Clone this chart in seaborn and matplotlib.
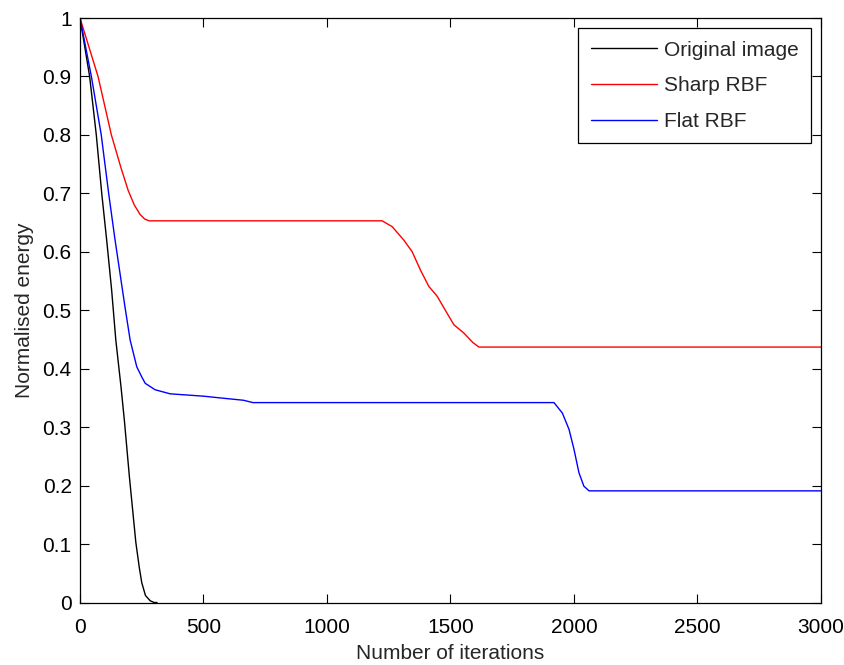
import matplotlib
matplotlib.use("Agg")
import matplotlib.pyplot as plt
import seaborn as sns

# Lire depuis la figure : nombre d'itérations et énergie normalisée
orig_iter = [0, 39, 66, 88, 108, 128, 145, 166, 180, 200, 226, 240, 250, 265, 284, 300, 312]
orig_energy = [1.0, 0.90, 0.80, 0.70, 0.62, 0.535, 0.449, 0.369, 0.31, 0.215, 0.103, 0.06,
               0.034, 0.012, 0.003, 0.0, 0.0]

sharp_iter = [0, 73, 127, 165, 195, 220, 243, 262, 280, 1223, 1264, 1311, 1345, 1378,
              1412, 1446, 1486, 1514, 1554, 1590, 1615, 3000]
sharp_energy = [1.0, 0.90, 0.80, 0.745, 0.705, 0.68, 0.664, 0.656, 0.653, 0.653, 0.643,
                0.620, 0.600, 0.569, 0.541, 0.524, 0.495, 0.475, 0.461, 0.445, 0.437, 0.437]

flat_iter = [0, 46, 86, 116, 142, 162, 182, 203, 230, 250, 264, 304, 365, 500, 568, 662,
             700, 1919, 1953, 1980, 2000, 2020, 2040, 2061, 3000]
flat_energy = [1.0, 0.90, 0.80, 0.70, 0.62, 0.563, 0.506, 0.449, 0.403, 0.386, 0.375,
               0.364, 0.357, 0.353, 0.350, 0.346, 0.342, 0.342, 0.324, 0.296, 0.262,
               0.222, 0.199, 0.191, 0.191]

labels = ["Original image", "Sharp RBF", "Flat RBF"]
x_ticks = [0, 500, 1000, 1500, 2000, 2500, 3000]
y_ticks = [0, 0.1, 0.2, 0.3, 0.4, 0.5, 0.6, 0.7, 0.8, 0.9, 1]
y_tick_labels = ["0", "0.1", "0.2", "0.3", "0.4", "0.5", "0.6", "0.7", "0.8", "0.9", "1"]


def plot_energy():
    """Trace les courbes d'énergie"""
    sns.set_style("ticks")
    plt.rcParams['font.family'] = ['Liberation Sans', 'DejaVu Sans']
    plt.rcParams['font.size'] = 15

    fig = plt.figure(figsize=(8.45, 6.65), dpi=100)
    ax = fig.add_axes([80 / 845, 1 - 602.5 / 665, 741 / 845, 584.5 / 665])

    series = [(orig_iter, orig_energy, "black"),
              (sharp_iter, sharp_energy, "#ff0000"),
              (flat_iter, flat_energy, "#0000ff")]
    for (xs, ys, col), lab in zip(series, labels):
        sns.lineplot(x=xs, y=ys, color=col, label=lab, ax=ax, sort=False,
                     estimator=None, linewidth=1.0)

    ax.set_xlim(0, 3000)
    ax.set_ylim(0, 1)
    ax.set_xticks(x_ticks)
    ax.set_xticklabels([str(t) for t in x_ticks])
    ax.set_yticks(y_ticks)
    ax.set_yticklabels(y_tick_labels)
    ax.tick_params(direction="in", length=6.5, width=0.8, top=True, right=True,
                   labelsize=15, colors="black")
    ax.tick_params(axis="x", pad=11)
    ax.tick_params(axis="y", pad=6)
    for sp in ax.spines.values():
        sp.set_visible(True)
        sp.set_color("black")
        sp.set_linewidth(0.9)

    ax.set_xlabel("Number of iterations", fontsize=15, labelpad=5)
    ax.set_ylabel("Normalised energy", fontsize=15, labelpad=6)

    leg = ax.legend(loc="upper right", fontsize=15, frameon=True, fancybox=False,
                    framealpha=1, edgecolor="black", handlelength=3.2,
                    handletextpad=0.3, labelspacing=0.8, borderpad=0.6,
                    borderaxespad=0.48)
    leg.get_frame().set_linewidth(0.9)

    fig.savefig("out.png", dpi=100)
    plt.close(fig)


if __name__ == "__main__":
    plot_energy()
